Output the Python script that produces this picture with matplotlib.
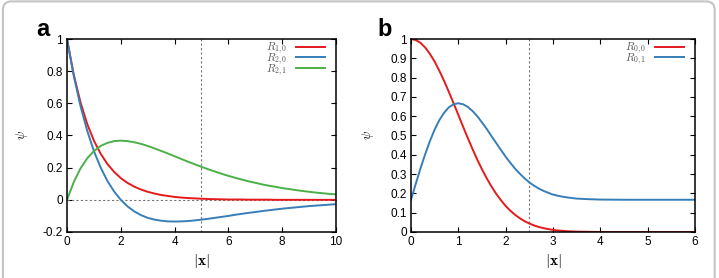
#!/usr/bin/env python3
# -*- coding: utf-8 -*-

import numpy as np
import matplotlib.pyplot as plt
from matplotlib.patches import FancyBboxPatch

# ---- panel a : radial functions, |x| from 0 to 10 in steps of 0.25
xa = np.arange(41) * 0.25
r10 = [1.000, 0.779, 0.607, 0.472, 0.368, 0.287, 0.223, 0.174, 0.135, 0.105,
       0.082, 0.064, 0.050, 0.039, 0.030, 0.024, 0.018, 0.014, 0.011, 0.009,
       0.007, 0.005, 0.004, 0.003, 0.002, 0.002, 0.002, 0.001, 0.001, 0.001,
       0.001, 0.000, 0.000, 0.000, 0.000, 0.000, 0.000, 0.000, 0.000, 0.000,
       0.000]
r20 = [1.000, 0.772, 0.584, 0.430, 0.303, 0.201, 0.118, 0.052, 0.000, -0.041,
       -0.072, -0.095, -0.112, -0.123, -0.130, -0.134, -0.135, -0.134, -0.132, -0.128,
       -0.123, -0.118, -0.112, -0.106, -0.100, -0.093, -0.087, -0.081, -0.076, -0.070,
       -0.065, -0.060, -0.055, -0.051, -0.047, -0.043, -0.039, -0.036, -0.033, -0.030,
       -0.027]
r21 = [0.000, 0.110, 0.195, 0.258, 0.303, 0.335, 0.354, 0.365, 0.368, 0.365,
       0.358, 0.348, 0.335, 0.320, 0.304, 0.288, 0.271, 0.254, 0.237, 0.221,
       0.205, 0.190, 0.176, 0.162, 0.149, 0.137, 0.126, 0.115, 0.106, 0.096,
       0.088, 0.081, 0.073, 0.067, 0.061, 0.055, 0.050, 0.045, 0.041, 0.037,
       0.034]
labels_a = [r'$R_{1,0}$', r'$R_{2,0}$', r'$R_{2,1}$']

# ---- panel b : |x| from 0 to 3.5 in steps of 0.1, then coarser
xb = list(np.round(np.arange(36) * 0.1, 2)) + [3.75, 4.0, 4.5, 5.0, 5.5, 6.0]
r00 = [1.000, 0.995, 0.980, 0.956, 0.923, 0.883, 0.835, 0.783, 0.726, 0.667,
       0.607, 0.546, 0.487, 0.430, 0.375, 0.325, 0.278, 0.236, 0.198, 0.165,
       0.135, 0.110, 0.089, 0.071, 0.056, 0.044, 0.034, 0.026, 0.020, 0.015,
       0.011, 0.008, 0.006, 0.004, 0.003, 0.002,
       0.001, 0.000, 0.000, 0.000, 0.000, 0.000]
r01 = [0.167, 0.249, 0.329, 0.403, 0.471, 0.531, 0.580, 0.618, 0.646, 0.662,
       0.667, 0.662, 0.648, 0.627, 0.600, 0.568, 0.534, 0.497, 0.461, 0.425,
       0.390, 0.358, 0.328, 0.302, 0.278, 0.257, 0.240, 0.225, 0.213, 0.203,
       0.194, 0.188, 0.183, 0.179, 0.176, 0.173,
       0.170, 0.168, 0.167, 0.167, 0.167, 0.167]
labels_b = [r'$R_{0,0}$', r'$R_{0,1}$']

red, blue, green = '#e41a1c', '#377eb8', '#4daf4a'

plt.rcParams['font.family'] = ['Liberation Sans', 'DejaVu Sans']
plt.rcParams['mathtext.fontset'] = 'cm'
plt.rcParams['axes.unicode_minus'] = False

fig = plt.figure(figsize=(7.19, 2.78), dpi=100)

# rounded grey frame round the whole figure
fig.patches.append(FancyBboxPatch((0.004, -0.05), 0.990, 1.045,
                                  boxstyle='round,pad=0,rounding_size=0.012',
                                  transform=fig.transFigure, fill=False,
                                  ec='#c4c4c4', lw=1.5, mutation_aspect=2.6))

axa = fig.add_axes([0.0932, 0.1655, 0.3741, 0.6942])
axb = fig.add_axes([0.5716, 0.1655, 0.3950, 0.6942])

def style(ax, ypad):
	for s in ax.spines.values():
		s.set_linewidth(1.1)
	ax.tick_params(direction='in', top=True, right=True, length=3.5, width=0.8,
	               labelsize=8.5, pad=3)
	ax.set_xlabel(r'$|\mathbf{x}|$', fontsize=11, labelpad=3)
	ax.set_ylabel(r'$\psi$', fontsize=9, labelpad=ypad)

# panel a
axa.axvline(5, color='#777777', lw=0.8, ls=(0, (2, 2)))
axa.axhline(0, color='#777777', lw=0.8, ls=(0, (2, 2)))
axa.plot(xa, r10, color=red, lw=1.4, label=labels_a[0])
axa.plot(xa, r20, color=blue, lw=1.4, label=labels_a[1])
axa.plot(xa, r21, color=green, lw=1.4, label=labels_a[2])
axa.set_xlim(0, 10)
axa.set_ylim(-0.2, 1)
axa.set_xticks([0, 2, 4, 6, 8, 10])
axa.set_yticks([-0.2, 0, 0.2, 0.4, 0.6, 0.8, 1])
axa.set_yticklabels(['-0.2', '0', '0.2', '0.4', '0.6', '0.8', '1'])
style(axa, 9)

# panel b
axb.axvline(2.5, color='#777777', lw=0.8, ls=(0, (2, 2)))
axb.plot(xb, r00, color=red, lw=1.4, label=labels_b[0])
axb.plot(xb, r01, color=blue, lw=1.4, label=labels_b[1])
axb.set_xlim(0, 6)
axb.set_ylim(0, 1)
axb.set_xticks(range(7))
axb.set_yticks(np.arange(11) / 10)
axb.set_yticklabels(['0', '0.1', '0.2', '0.3', '0.4', '0.5', '0.6', '0.7', '0.8', '0.9', '1'])
style(axb, 10)

for ax in (axa, axb):
	leg = ax.legend(loc='upper right', bbox_to_anchor=(1.0, 1.047),
	                frameon=False, markerfirst=False,
	                fontsize=8, handlelength=2.6, handletextpad=0.8,
	                labelspacing=-0.42, borderaxespad=0.5, borderpad=0.5)
	for t in leg.get_texts():
		t.set_color('#555555')

fig.text(0.050, 0.895, 'a', fontsize=17, fontweight='bold', ha='left', va='center')
fig.text(0.525, 0.895, 'b', fontsize=17, fontweight='bold', ha='left', va='center')

fig.savefig('out.png', dpi=100)
